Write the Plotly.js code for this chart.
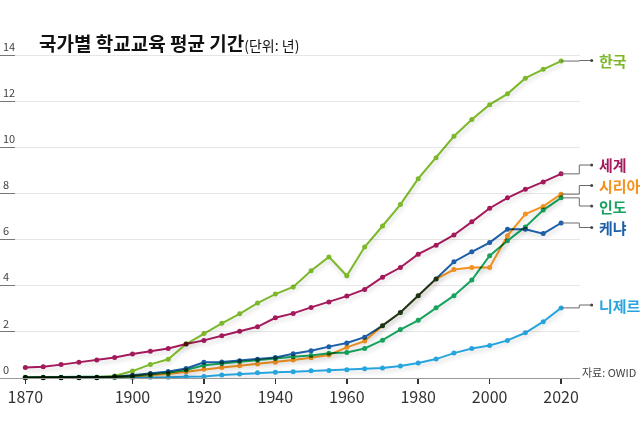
<!DOCTYPE html>
<html><head><meta charset="utf-8">
<script src="https://cdn.plot.ly/plotly-3.0.1.min.js"></script>
<style>
html,body{margin:0;padding:0;background:#fff;}
#chart{width:640px;height:422px;}
.scatterlayer .trace{mix-blend-mode:multiply;}
.scatterlayer .trace .js-line{filter:drop-shadow(1px 3px 2px rgba(0,0,0,0.16));}
</style></head><body><div id="chart"></div>
<script>
const years = [1870,1875,1880,1885,1890,1895,1900,1905,1910,1915,1920,1925,1930,1935,1940,1945,1950,1955,1960,1965,1970,1975,1980,1985,1990,1995,2000,2005,2010,2015,2020];
const world = [0.45,0.49,0.58,0.68,0.78,0.89,1.04,1.16,1.28,1.47,1.63,1.83,2.03,2.22,2.61,2.80,3.06,3.30,3.55,3.84,4.37,4.79,5.37,5.76,6.20,6.77,7.36,7.81,8.18,8.50,8.85];
const korea = [0.02,0.02,0.02,0.02,0.03,0.09,0.30,0.59,0.81,1.47,1.93,2.37,2.78,3.25,3.64,3.95,4.65,5.25,4.43,5.68,6.59,7.52,8.64,9.55,10.48,11.21,11.85,12.32,13.00,13.38,13.74];
const niger = [0.01,0.01,0.01,0.01,0.01,0.02,0.02,0.03,0.03,0.05,0.07,0.13,0.17,0.23,0.25,0.27,0.31,0.33,0.36,0.40,0.43,0.52,0.65,0.82,1.08,1.28,1.41,1.63,1.96,2.44,3.04];
const india = [0.03,0.03,0.03,0.03,0.03,0.06,0.10,0.17,0.23,0.35,0.55,0.63,0.71,0.78,0.85,0.92,0.98,1.07,1.11,1.28,1.64,2.10,2.50,3.05,3.57,4.25,5.30,5.95,6.55,7.28,7.81];
const syria = [0.01,0.01,0.01,0.01,0.01,0.03,0.07,0.12,0.17,0.27,0.38,0.46,0.53,0.61,0.68,0.78,0.88,1.00,1.33,1.60,2.27,2.84,3.57,4.29,4.70,4.79,4.79,6.17,7.11,7.44,7.97];
const kenya = [0.02,0.02,0.02,0.02,0.02,0.05,0.12,0.20,0.28,0.41,0.68,0.69,0.75,0.81,0.89,1.05,1.18,1.36,1.52,1.77,2.27,2.84,3.57,4.29,5.04,5.47,5.87,6.45,6.45,6.26,6.72];
const names = ['세계','한국','니제르','인도','시리아','케냐'];
const xTicks = [1870,1900,1920,1940,1960,1980,2000,2020];
const yTicks = [0,2,4,6,8,10,12,14];

const series = [
  {name:'세계', y:world, color:'#a3195b', labelPy:165},
  {name:'한국', y:korea, color:'#7cb82a', labelPy:60.5},
  {name:'니제르', y:niger, color:'#27a4de', labelPy:305},
  {name:'인도', y:india, color:'#17a35e', labelPy:206},
  {name:'시리아', y:syria, color:'#f4921f', labelPy:185.5},
  {name:'케냐', y:kenya, color:'#1c5ea8', labelPy:227.5}
];

const W=640,H=422,ML=0,MR=60,MB=44;
const X0=1862.9, X1=2025.3, Y0=0, Y1=15;
const PXU=23.08;
const MT = H-MB-Math.round((Y1-Y0)*PXU);
const PW=W-ML-MR, PH=H-MT-MB;
const xp = px => (px-ML)/PW;
const yp = py => (H-MB-py)/PH;
const xd = v => (v-X0)/(X1-X0);
const yd = v => (v-Y0)/(Y1-Y0);

const traces = series.map(s => ({
  type:'scatter', mode:'lines+markers', x:years, y:s.y, name:s.name,
  line:{color:s.color, width:2}, marker:{color:s.color, size:5},
  hoverinfo:'skip', cliponaxis:false
}));

const shapes = [];
const annotations = [];
series.forEach(s => {
  const last = s.y[s.y.length-1];
  const xs = xd(years[years.length-1]), ys = yd(last);
  const xe = xp(579.3), xf = xp(591.7), yl = yp(s.labelPy);
  shapes.push({type:'path', xref:'paper', yref:'paper',
    path:`M ${xs} ${ys} L ${xe} ${ys} L ${xe} ${yl} L ${xf} ${yl}`,
    line:{color:'#6b6b6b', width:1}});
  shapes.push({type:'circle', xref:'paper', yref:'paper', xsizemode:'pixel', ysizemode:'pixel',
    xanchor:xf, yanchor:yl, x0:-1.5, x1:1.5, y0:-1.5, y1:1.5, fillcolor:'#444', line:{width:0}});
  annotations.push({xref:'paper', yref:'paper', x:xp(597), y:yl, xanchor:'left', yanchor:'middle',
    text:'<b>'+s.name+'</b>', showarrow:false, font:{size:15, color:s.color, family:'Noto Sans CJK KR'}});
});
annotations.push({xref:'paper', yref:'paper', x:xp(37), y:yp(42), xanchor:'left', yanchor:'middle',
  text:'<b>국가별 학교교육 평균 기간</b><span style="font-size:14px">(단위: 년)</span>', showarrow:false,
  font:{size:19, color:'#111', family:'Noto Sans CJK KR'}});
annotations.push({xref:'paper', yref:'paper', x:xp(638), y:yp(372), xanchor:'right', yanchor:'middle',
  text:'자료: OWID', showarrow:false, font:{size:11, color:'#444', family:'Noto Sans CJK KR'}});

const layout = {
  width:W, height:H, margin:{l:ML, r:MR, t:MT, b:MB}, showlegend:false,
  paper_bgcolor:'#fff', plot_bgcolor:'#fff',
  font:{family:'Noto Sans CJK KR', color:'#333'},
  xaxis:{range:[X0,X1], tickvals:xTicks, ticktext:xTicks.map(String), ticks:'outside', ticklen:5,
    tickwidth:1.5, tickcolor:'#333', showline:true, linecolor:'#999', linewidth:1, showgrid:false,
    zeroline:false, tickfont:{size:16, color:'#333', family:'Noto Sans CJK KR'}},
  yaxis:{range:[Y0,Y1], tickvals:yTicks, ticktext:yTicks.map(String), ticklabelposition:'inside top',
    ticks:'inside', ticklen:15, tickcolor:'#777', tickwidth:1, showgrid:true, gridcolor:'#e6e6e6',
    gridwidth:1, zeroline:false, showline:false, tickfont:{size:11, color:'#444', family:'Noto Sans CJK KR'}},
  shapes, annotations
};
Plotly.newPlot('chart', traces, layout, {displayModeBar:false, staticPlot:true});
</script></body></html>
